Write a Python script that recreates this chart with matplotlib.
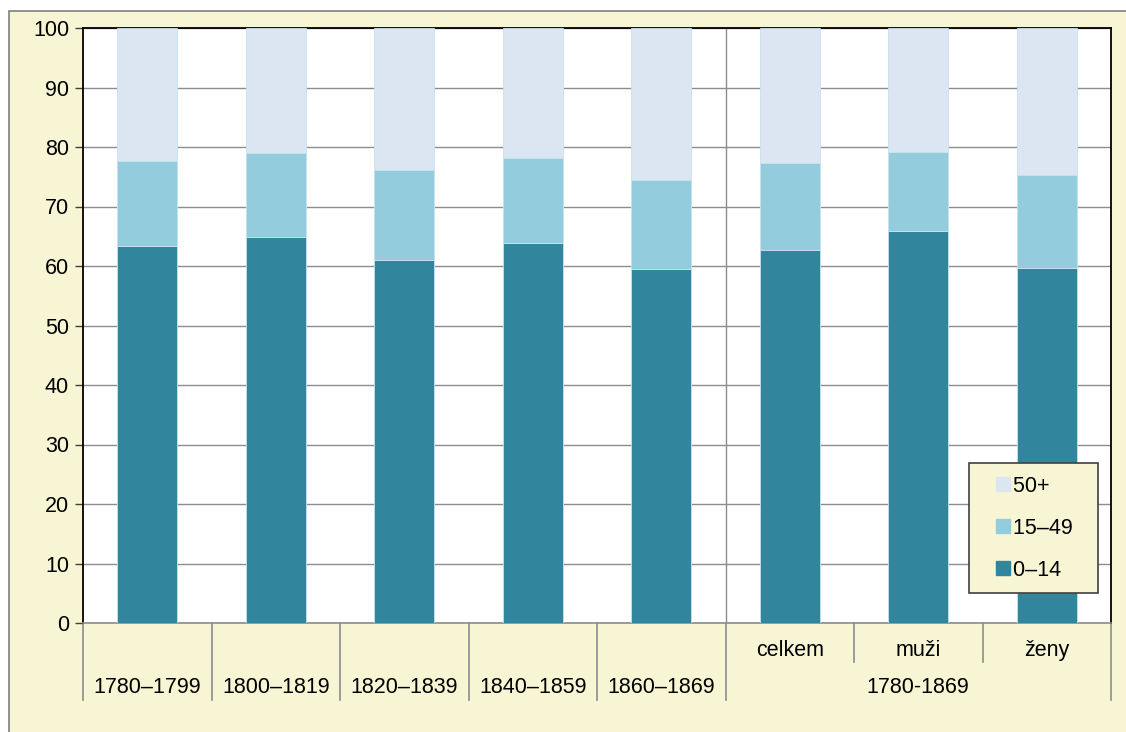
import numpy as np
import matplotlib
matplotlib.use("Agg")
import matplotlib.pyplot as plt
from matplotlib.patches import Rectangle
from matplotlib.lines import Line2D
from matplotlib.transforms import blended_transform_factory

plt.rcParams["font.family"] = ["Liberation Sans", "DejaVu Sans"]

# data (per cent)
periods = ["1780–1799", "1800–1819", "1820–1839", "1840–1859", "1860–1869"]
groups = ["celkem", "muži", "ženy"]
group_span = "1780-1869"
age_0_14 = [63.4, 64.8, 61.0, 63.9, 59.5, 62.7, 65.9, 59.6]
age_15_49 = [14.3, 14.2, 15.2, 14.2, 14.9, 14.6, 13.3, 15.7]
age_50 = [100 - a - b for a, b in zip(age_0_14, age_15_49)]
series = ["0–14", "15–49", "50+"]
colors = ["#31859C", "#93CDDD", "#DCE6F2"]

FS = 15.5

W, H = 1126, 732
fig = plt.figure(figsize=(W / 100, H / 100), dpi=100)
fig.patch.set_facecolor("white")
# cream outer frame
fig.patches.append(Rectangle((9 / W, -0.05), 1.1, 1.05 - 11 / H, transform=fig.transFigure,
                             facecolor="#F8F5D4", edgecolor="#7f7f7f", linewidth=1.2, zorder=-1))

ax = fig.add_axes([83 / W, 1 - 623 / H, 1028 / W, 595 / H])
ax.set_facecolor("white")

x = np.arange(len(age_0_14))
bottom = np.zeros(len(x))
for vals, col, lab in zip([age_0_14, age_15_49, age_50], colors, series):
    ax.bar(x, vals, width=0.47, bottom=bottom, color=col, edgecolor="#c4e3ec",
           linewidth=0.6, label=lab, zorder=3)
    bottom += np.array(vals)

ax.set_xlim(-0.5, len(x) - 0.5)
ax.set_ylim(0, 100)
ax.set_yticks(range(0, 101, 10))
ax.tick_params(axis="y", labelsize=FS, length=6, width=1, color="#404040", pad=4)
ax.set_xticks([])
ax.grid(axis="y", color="#8c8c8c", linewidth=1, zorder=1)
for s in ["left", "top", "right"]:
    ax.spines[s].set_color("black")
    ax.spines[s].set_linewidth(1.3)
ax.spines["bottom"].set_color("#8c8c8c")
ax.spines["bottom"].set_linewidth(1.2)

# separator between period and sex groups
ax.axvline(4.5, color="#8c8c8c", linewidth=1, zorder=2)

# two-level category axis
tr = blended_transform_factory(ax.transData, ax.transAxes)
for b in np.arange(-0.5, len(x), 1.0):
    low = -0.066 if b in (5.5, 6.5) else -0.129
    ax.plot([b, b], [0, low], transform=tr, color="#8c8c8c", linewidth=1.2, clip_on=False)
for i, p in enumerate(periods):
    ax.text(i, -0.1085, p, transform=tr, ha="center", va="center", fontsize=FS)
for i, g in enumerate(groups):
    ax.text(5 + i, -0.0455, g, transform=tr, ha="center", va="center", fontsize=FS)
ax.text(6, -0.1085, group_span, transform=tr, ha="center", va="center", fontsize=FS)

# legend with small square markers, top entry first
# (trailing spaces widen the box on the right like the original)
handles = [Line2D([], [], ls="none", marker="s", markersize=10, color=c) for c in colors]
labels = [s + "  " for s in series]
leg = ax.legend(handles[::-1], labels[::-1], loc="lower right", bbox_to_anchor=(0.987, 0.05),
                fontsize=FS, labelspacing=0.98, handlelength=2.0, handletextpad=-0.53,
                borderpad=0.58, borderaxespad=0, frameon=True, fancybox=False)
leg.get_frame().set_facecolor("#F8F5D4")
leg.get_frame().set_edgecolor("#404040")
leg.get_frame().set_linewidth(1.2)
leg.get_frame().set_alpha(1)
leg.set_zorder(5)

fig.savefig("out.png", dpi=100)
